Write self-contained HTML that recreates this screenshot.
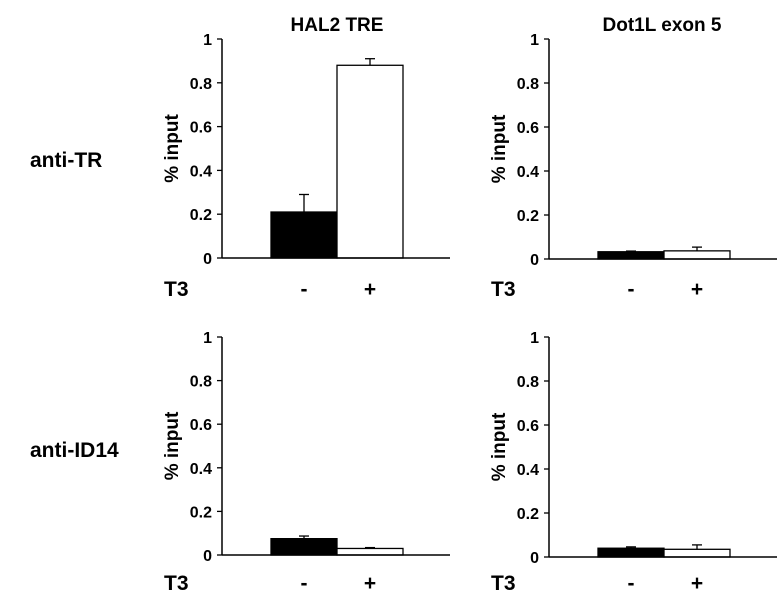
<!DOCTYPE html>
<html><head><meta charset="utf-8"><style>
body{margin:0;background:#fff}
svg{display:block;font-family:"Liberation Sans",sans-serif;font-weight:bold}
</style></head><body>
<svg id="c" width="780" height="599"></svg>
<script>
const panelTitles=["HAL2 TRE","Dot1L exon 5"];
const rowLabels=["anti-TR","anti-ID14"];
const categories=["-","+"];
const tickValues=[0,0.2,0.4,0.6,0.8,1];
const tickLabels=["0","0.2","0.4","0.6","0.8","1"];
const valuesTR_HAL2=[0.21,0.88];
const errorsTR_HAL2=[0.08,0.03];
const valuesTR_Dot1L=[0.033,0.037];
const errorsTR_Dot1L=[0.003,0.017];
const valuesID14_HAL2=[0.075,0.03];
const errorsID14_HAL2=[0.012,0.004];
const valuesID14_Dot1L=[0.04,0.035];
const errorsID14_Dot1L=[0.006,0.02];

const NS="http://www.w3.org/2000/svg";
const svg=document.getElementById('c');
function mk(t,a,txt){const e=document.createElementNS(NS,t);for(const k in a)e.setAttribute(k,a[k]);if(txt!=null)e.textContent=txt;svg.appendChild(e);return e;}

const panels=[
 {ax:222,y0:258,y1:39,vals:valuesTR_HAL2,errs:errorsTR_HAL2,t3y:296,id:"tr-hal2"},
 {ax:549,y0:259,y1:39,vals:valuesTR_Dot1L,errs:errorsTR_Dot1L,t3y:296,id:"tr-dot1l"},
 {ax:222,y0:555,y1:337,vals:valuesID14_HAL2,errs:errorsID14_HAL2,t3y:590,id:"id14-hal2"},
 {ax:549,y0:557,y1:337,vals:valuesID14_Dot1L,errs:errorsID14_Dot1L,t3y:590,id:"id14-dot1l"}
];
panelTitles.forEach((t,i)=>{
 const e=mk('text',{x:i?662:337,y:31,'text-anchor':'middle','font-size':19},t);
 
 
});
rowLabels.forEach((t,i)=>{
 const e=mk('text',{x:30,y:i?457:167,'font-size':21},t);
 
 
});
panels.forEach(p=>{
 const y=v=>p.y0-(p.y0-p.y1)*v;
 const x0=p.ax+49, bw=66, xEnd=p.ax+228;
 tickValues.forEach((v,i)=>{
  const yy=y(v);
  const l=mk('line',{x1:p.ax-5,x2:p.ax,y1:yy,y2:yy,stroke:'#000','stroke-width':1.3});
  
  
  const t=mk('text',{x:p.ax-10,y:yy+6,'text-anchor':'end','font-size':16},tickLabels[i]);
  
  
 });
 const yt=mk('text',{transform:`translate(${p.ax-44},${(p.y0+p.y1)/2}) rotate(-90)`,'text-anchor':'middle','font-size':19},'% input');
 
 
 p.vals.forEach((v,i)=>{
  const bx=x0+i*bw, cx=bx+bw/2, top=y(v), et=y(v+p.errs[i]);
  const eb=mk('line',{x1:cx,x2:cx,y1:top,y2:et,stroke:'#000','stroke-width':1.3});
  
  
  const ec=mk('line',{x1:cx-5,x2:cx+5,y1:et,y2:et,stroke:'#000','stroke-width':1.3});
  
  
  const r=mk('rect',{x:bx,y:top,width:bw,height:p.y0-top,fill:i?'#fff':'#000',stroke:'#000','stroke-width':1.3});
  
  
  const c=mk('text',{x:cx,y:p.t3y,'text-anchor':'middle','font-size':21},categories[i]);
  
  
 });
 const ya=mk('line',{x1:p.ax,x2:p.ax,y1:p.y1,y2:p.y0,stroke:'#000','stroke-width':1.5});
 
 
 const xa=mk('line',{x1:p.ax,x2:xEnd,y1:p.y0,y2:p.y0,stroke:'#000','stroke-width':1.5});
 
 
 const t3=mk('text',{x:p.ax-58,y:p.t3y,'font-size':21},'T3');
 
 
});
</script>
</body></html>
